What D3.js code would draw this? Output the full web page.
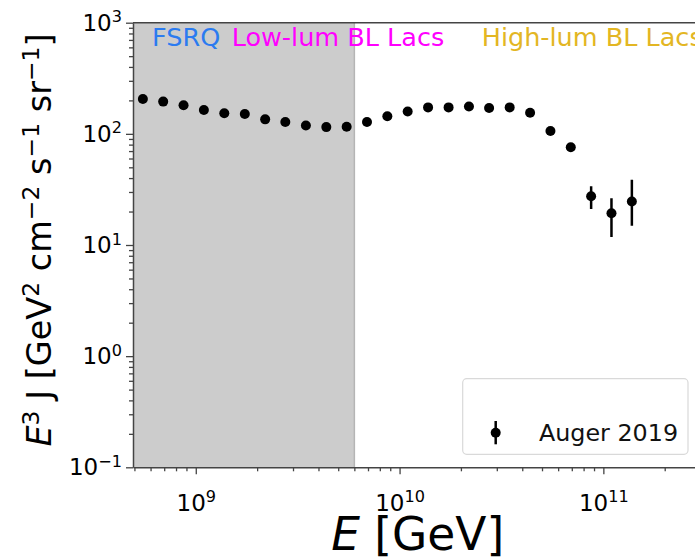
<!DOCTYPE html>
<html>
<head>
<meta charset="utf-8">
<script src="https://cdn.jsdelivr.net/npm/d3@7"></script>
<style>
  body { margin: 0; background: #fff; overflow: hidden; }
  svg { display: block; font-family: "DejaVu Sans", sans-serif; }
</style>
</head>
<body>
<svg id="chart" width="695" height="560"></svg>
<script>
// Auger 2019 spectrum, E^3 J
const energy = [5.50e8, 6.92e8, 8.71e8, 1.096e9, 1.38e9, 1.74e9, 2.19e9, 2.75e9, 3.47e9, 4.37e9,
                5.50e9, 6.92e9, 8.71e9, 1.096e10, 1.38e10, 1.74e10, 2.19e10, 2.75e10, 3.47e10, 4.37e10,
                5.50e10, 6.92e10, 8.71e10, 1.096e11, 1.38e11];
const flux   = [206, 195, 181, 164, 153, 151, 135, 128, 119, 115,
                116, 128, 144, 159, 173, 173, 176, 171, 173, 155,
                106, 75.7, 27.5, 19.3, 24.6];
const errLow  = [3, 3, 3, 3, 3, 3, 3, 3, 3, 3, 3, 3, 4, 4, 4, 5, 5, 6, 7, 7, 6, 6, 6.4, 7.5, 9.7];
const errHigh = [3, 3, 3, 3, 3, 3, 3, 3, 3, 3, 3, 3, 4, 4, 4, 5, 5, 6, 7, 7, 6, 6, 6.3, 7.1, 14.0];

// shaded band (upper edge in GeV)
const bandEnd = 6.0e9;

// source class labels
const classNames  = ["FSRQ", "Low-lum BL Lacs", "High-lum BL Lacs"];
const classColors = ["#2b7bf0", "#ff00ff", "#e3b623"];
const classX      = [6.1e8, 1.5e9, 2.53e10];
const classY      = 620;

const xDomain = [4.92e8, 2.98e11];
const yDomain = [0.1, 1000];
const xMajor = [1e9, 1e10, 1e11];
const xMajorExp = ["9", "10", "11"];
const yMajor = [0.1, 1, 10, 100, 1000];
const yMajorExp = ["\u22121", "0", "1", "2", "3"];

const legendLabel = "Auger 2019";

const svg = d3.select("#chart");
const pl = 133, pr = 700, pt = 22.7, pb = 467.3;
const axisColor = "#444";
const tickFont = 23;
const tickRise = 8.5;

const x = d3.scaleLog().domain(xDomain).range([pl, pr]);
const y = d3.scaleLog().domain(yDomain).range([pb, pt]);

svg.append("defs").append("clipPath").attr("id", "plot")
  .append("rect").attr("x", pl).attr("y", pt)
  .attr("width", pr - pl).attr("height", pb - pt);

// grey band
svg.append("rect")
  .attr("x", pl).attr("y", pt)
  .attr("width", x(bandEnd) - pl).attr("height", pb - pt)
  .attr("fill", "#cccccc");
svg.append("line")
  .attr("x1", x(bandEnd)).attr("x2", x(bandEnd))
  .attr("y1", pt).attr("y2", pb)
  .attr("stroke", "#b5b5b5").attr("stroke-width", 1.5);

// class labels
svg.append("g").selectAll("text")
  .data(classNames)
  .join("text")
  .attr("x", (d, i) => x(classX[i]))
  .attr("y", y(classY))
  .attr("font-size", 25.5)
  .attr("fill", (d, i) => classColors[i])
  .text(d => d);

// data
const plot = svg.append("g").attr("clip-path", "url(#plot)");
plot.append("g").selectAll("line")
  .data(energy)
  .join("line")
  .attr("x1", d => x(d)).attr("x2", d => x(d))
  .attr("y1", (d, i) => y(flux[i] - errLow[i]))
  .attr("y2", (d, i) => y(flux[i] + errHigh[i]))
  .attr("stroke", "#000").attr("stroke-width", 2.5);
plot.append("g").selectAll("circle")
  .data(energy)
  .join("circle")
  .attr("cx", d => x(d))
  .attr("cy", (d, i) => y(flux[i]))
  .attr("r", 5)
  .attr("fill", "#000");

// superscript helper
function power(sel, base, exp, size, rise) {
  sel.text(null);
  sel.append("tspan").text(base);
  sel.append("tspan").attr("dy", -rise).attr("font-size", size * 0.7).text(exp);
}

// x axis
const xMinor = x.ticks().filter(v => !xMajor.includes(v));
svg.append("g")
  .attr("transform", `translate(0,${pb})`)
  .call(d3.axisBottom(x).tickValues(xMinor).tickSize(4).tickFormat(""))
  .call(g => g.select(".domain").remove());
const gx = svg.append("g")
  .attr("transform", `translate(0,${pb})`)
  .call(d3.axisBottom(x).tickValues(xMajor).tickSize(7).tickSizeOuter(0).tickPadding(0));
gx.selectAll(".tick text")
  .attr("font-size", tickFont).attr("font-family", "DejaVu Sans")
  .attr("fill", "#000").attr("dy", null).attr("y", 43.4)
  .each(function (d, i) { power(d3.select(this), "10", xMajorExp[i], tickFont, tickRise); });

// y axis
const yMinor = y.ticks().filter(v => !yMajor.some(m => Math.abs(m - v) / m < 1e-9));
svg.append("g")
  .attr("transform", `translate(${pl},0)`)
  .call(d3.axisLeft(y).tickValues(yMinor).tickSize(4).tickFormat(""))
  .call(g => g.select(".domain").remove());
const gy = svg.append("g")
  .attr("transform", `translate(${pl},0)`)
  .call(d3.axisLeft(y).tickValues(yMajor).tickSize(7).tickSizeOuter(0).tickPadding(0));
gy.selectAll(".tick text")
  .attr("font-size", tickFont).attr("font-family", "DejaVu Sans")
  .attr("fill", "#000").attr("dy", null).attr("x", -11).attr("y", 7.5)
  .each(function (d, i) { power(d3.select(this), "10", yMajorExp[i], tickFont, tickRise); });

svg.selectAll(".tick line").attr("stroke", axisColor).attr("stroke-width", 1.3);
svg.selectAll(".domain").attr("stroke", axisColor).attr("stroke-width", 1.5);

// top spine
svg.append("line").attr("x1", pl).attr("x2", pr).attr("y1", pt).attr("y2", pt)
  .attr("stroke", axisColor).attr("stroke-width", 1.5);

// axis titles
const xt = svg.append("text")
  .attr("x", 417.7).attr("y", 550)
  .attr("text-anchor", "middle").attr("font-size", 45.5);
xt.append("tspan").attr("font-style", "italic").text("E");
xt.append("tspan").text(" [GeV]");

const yFont = 33.5, yRise = 12.5, ySup = yFont * 0.7;
const yt = svg.append("text")
  .attr("transform", "translate(51,240) rotate(-90)")
  .attr("text-anchor", "middle").attr("font-size", yFont);
const yParts = [
  ["E", false, true], ["3", true], [" J [GeV", false], ["2", true], [" cm", false],
  ["\u22122", true], [" s", false], ["\u22121", true], [" sr", false], ["\u22121", true], ["]", false]
];
let raised = false;
yParts.forEach(([t, sup, ital]) => {
  const ts = yt.append("tspan").text(t);
  if (sup) { ts.attr("font-size", ySup).attr("dy", raised ? 0 : -yRise); raised = true; }
  else { if (raised) ts.attr("dy", yRise); raised = false; }
  if (ital) ts.attr("font-style", "italic");
});

// legend
const lg = svg.append("g");
lg.append("rect")
  .attr("x", 462.7).attr("y", 378.7).attr("width", 225.3).attr("height", 75.6)
  .attr("rx", 4).attr("fill", "#fff").attr("fill-opacity", 0.8)
  .attr("stroke", "#d9d9d9").attr("stroke-width", 1.2);
lg.append("line")
  .attr("x1", 495.7).attr("x2", 495.7).attr("y1", 421).attr("y2", 444.3)
  .attr("stroke", "#000").attr("stroke-width", 2.5);
lg.append("circle").attr("cx", 495.7).attr("cy", 432.7).attr("r", 5).attr("fill", "#000");
lg.append("text").attr("x", 539).attr("y", 441).attr("font-size", 23.8).attr("fill", "#111")
  .text(legendLabel);
</script>
</body>
</html>
